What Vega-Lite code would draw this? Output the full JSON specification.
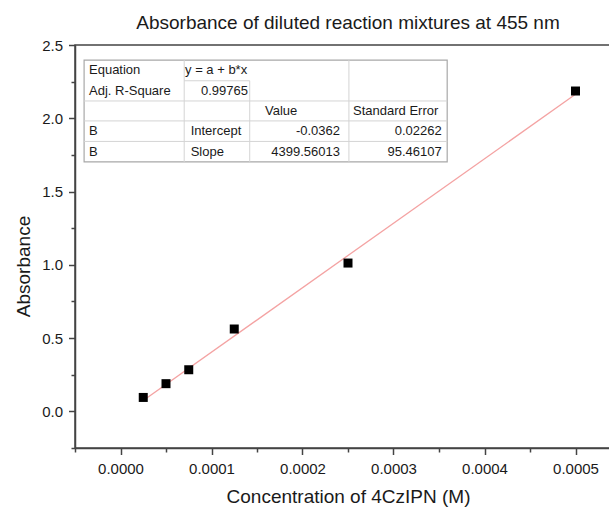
{
  "$schema": "https://vega.github.io/schema/vega-lite/v6.json",
  "width": 546,
  "height": 403,
  "autosize": {"type": "none"},
  "padding": {"left": 75, "top": 45, "right": 0, "bottom": 59},
  "background": "white",
  "title": {
    "text": "Absorbance of diluted reaction mixtures at 455 nm",
    "font": "Liberation Sans",
    "fontSize": 19,
    "fontWeight": "normal",
    "color": "#1a1a1a",
    "anchor": "middle",
    "baseline": "alphabetic",
    "offset": 8,
    "dy": 18
  },
  "config": {
    "view": {"stroke": "#444444", "strokeWidth": 1.5},
    "axis": {
      "domainColor": "#444444",
      "domainWidth": 1.5,
      "tickColor": "#444444",
      "tickWidth": 1.5,
      "grid": false,
      "labelFont": "Liberation Sans",
      "labelFontSize": 15,
      "labelColor": "#1a1a1a",
      "titleFont": "Liberation Sans",
      "titleFontSize": 19,
      "titleFontWeight": "normal",
      "titleColor": "#1a1a1a"
    }
  },
  "datasets": {
    "points": [
      {"conc": 0.000025, "abs": 0.095},
      {"conc": 0.00005, "abs": 0.189},
      {"conc": 0.000075, "abs": 0.284},
      {"conc": 0.000125, "abs": 0.562},
      {"conc": 0.00025, "abs": 1.012},
      {"conc": 0.0005, "abs": 2.186}
    ],
    "fit": [
      {"conc": 0.000025, "abs": 0.0738},
      {"conc": 0.0005, "abs": 2.1636}
    ],
    "box": [
      {"x1": -0.00004, "x2": 0.000359, "y1": 2.397, "y2": 1.702}
    ],
    "lines": [
      {"x1": 0.00007, "x2": 0.00007, "y1": 2.397, "y2": 1.702},
      {"x1": 0.000142, "x2": 0.000142, "y1": 2.256, "y2": 1.702},
      {"x1": 0.000251, "x2": 0.000251, "y1": 2.397, "y2": 1.702},
      {"x1": 0.00007, "x2": 0.000142, "y1": 2.256, "y2": 2.256},
      {"x1": -0.00004, "x2": 0.000359, "y1": 2.118, "y2": 2.118},
      {"x1": -0.00004, "x2": 0.000359, "y1": 1.982, "y2": 1.982},
      {"x1": -0.00004, "x2": 0.000359, "y1": 1.842, "y2": 1.842}
    ],
    "cells": [
      {"tx": -0.0000346, "ty": 2.327, "label": "Equation", "side": "left"},
      {"tx": 0.0000709, "ty": 2.327, "label": "y = a + b*x", "side": "left"},
      {"tx": -0.0000346, "ty": 2.187, "label": "Adj. R-Square", "side": "left"},
      {"tx": 0.000140, "ty": 2.187, "label": "0.99765", "side": "right"},
      {"tx": 0.0001588, "ty": 2.049, "label": "Value", "side": "left"},
      {"tx": 0.0002555, "ty": 2.049, "label": "Standard Error", "side": "left"},
      {"tx": -0.0000346, "ty": 1.911, "label": "B", "side": "left"},
      {"tx": 0.0000771, "ty": 1.911, "label": "Intercept", "side": "left"},
      {"tx": 0.0002412, "ty": 1.911, "label": "-0.0362", "side": "right"},
      {"tx": 0.000353, "ty": 1.911, "label": "0.02262", "side": "right"},
      {"tx": -0.0000346, "ty": 1.771, "label": "B", "side": "left"},
      {"tx": 0.0000771, "ty": 1.771, "label": "Slope", "side": "left"},
      {"tx": 0.0002412, "ty": 1.771, "label": "4399.56013", "side": "right"},
      {"tx": 0.000353, "ty": 1.771, "label": "95.46107", "side": "right"}
    ]
  },
  "resolve": {"scale": {"x": "shared", "y": "shared"}, "axis": {"y": "independent"}},
  "layer": [
    {
      "data": {"name": "fit"},
      "mark": {"type": "line", "color": "#f4a3a3", "strokeWidth": 1.3},
      "encoding": {
        "x": {
          "field": "conc",
          "type": "quantitative",
          "scale": {"domain": [-0.00005, 0.00055], "nice": false, "zero": false},
          "axis": {
            "title": "Concentration of 4CzIPN (M)",
            "values": [-0.00005, 0, 0.00005, 0.0001, 0.00015, 0.0002, 0.00025, 0.0003, 0.00035, 0.0004, 0.00045, 0.0005, 0.00055],
            "labelExpr": "abs(round(datum.value*100000)) % 2 == 1 ? '' : format(datum.value, '.4f')",
            "tickSize": {"condition": {"test": "abs(round(datum.value*100000)) % 2 == 1", "value": 4}, "value": 6.5},
            "labelPadding": 7,
            "labelFlush": false,
            "labelOverlap": false,
            "titleY": 54,
            "titleX": 273,
            "titleBaseline": "alphabetic",
            "titleAlign": "center"
          }
        },
        "y": {
          "field": "abs",
          "type": "quantitative",
          "scale": {"domain": [-0.25, 2.5], "nice": false, "zero": false},
          "axis": {
            "orient": "left",
            "title": "Absorbance",
            "values": [0, 0.5, 1, 1.5, 2, 2.5],
            "format": ".1f",
            "tickSize": 6.5,
            "labelPadding": 6,
            "labelFlush": false,
            "labelOverlap": false,
            "titleX": -52,
            "titleY": 221,
            "titleAngle": -90,
            "titleBaseline": "middle",
            "titleAlign": "center"
          }
        }
      }
    },
    {
      "data": {"name": "points"},
      "mark": {"type": "point", "shape": "square", "filled": true, "color": "#000000", "size": 81, "opacity": 1},
      "encoding": {
        "x": {"field": "conc", "type": "quantitative"},
        "y": {
          "field": "abs",
          "type": "quantitative",
          "axis": {
            "orient": "left",
            "title": null,
            "values": [-0.25, 0.25, 0.75, 1.25, 1.75, 2.25],
            "labels": false,
            "domain": false,
            "tickSize": 4
          }
        }
      }
    },
    {
      "data": {"name": "box"},
      "mark": {"type": "rect", "fill": "#ffffff", "stroke": "#a8a8a8", "strokeWidth": 1.2},
      "encoding": {
        "x": {"field": "x1", "type": "quantitative"},
        "x2": {"field": "x2"},
        "y": {"field": "y1", "type": "quantitative", "axis": null},
        "y2": {"field": "y2"}
      }
    },
    {
      "data": {"name": "lines"},
      "mark": {"type": "rule", "color": "#d4d4d4", "strokeWidth": 1},
      "encoding": {
        "x": {"field": "x1", "type": "quantitative"},
        "x2": {"field": "x2"},
        "y": {"field": "y1", "type": "quantitative", "axis": null},
        "y2": {"field": "y2"}
      }
    },
    {
      "data": {"name": "cells"},
      "transform": [{"filter": "datum.side == 'left'"}],
      "mark": {"type": "text", "align": "left", "baseline": "middle", "font": "Liberation Sans", "fontSize": 13, "color": "#1a1a1a"},
      "encoding": {
        "x": {"field": "tx", "type": "quantitative"},
        "y": {"field": "ty", "type": "quantitative", "axis": null},
        "text": {"field": "label"}
      }
    },
    {
      "data": {"name": "cells"},
      "transform": [{"filter": "datum.side == 'right'"}],
      "mark": {"type": "text", "align": "right", "baseline": "middle", "font": "Liberation Sans", "fontSize": 13, "color": "#1a1a1a"},
      "encoding": {
        "x": {"field": "tx", "type": "quantitative"},
        "y": {"field": "ty", "type": "quantitative", "axis": null},
        "text": {"field": "label"}
      }
    }
  ]
}
